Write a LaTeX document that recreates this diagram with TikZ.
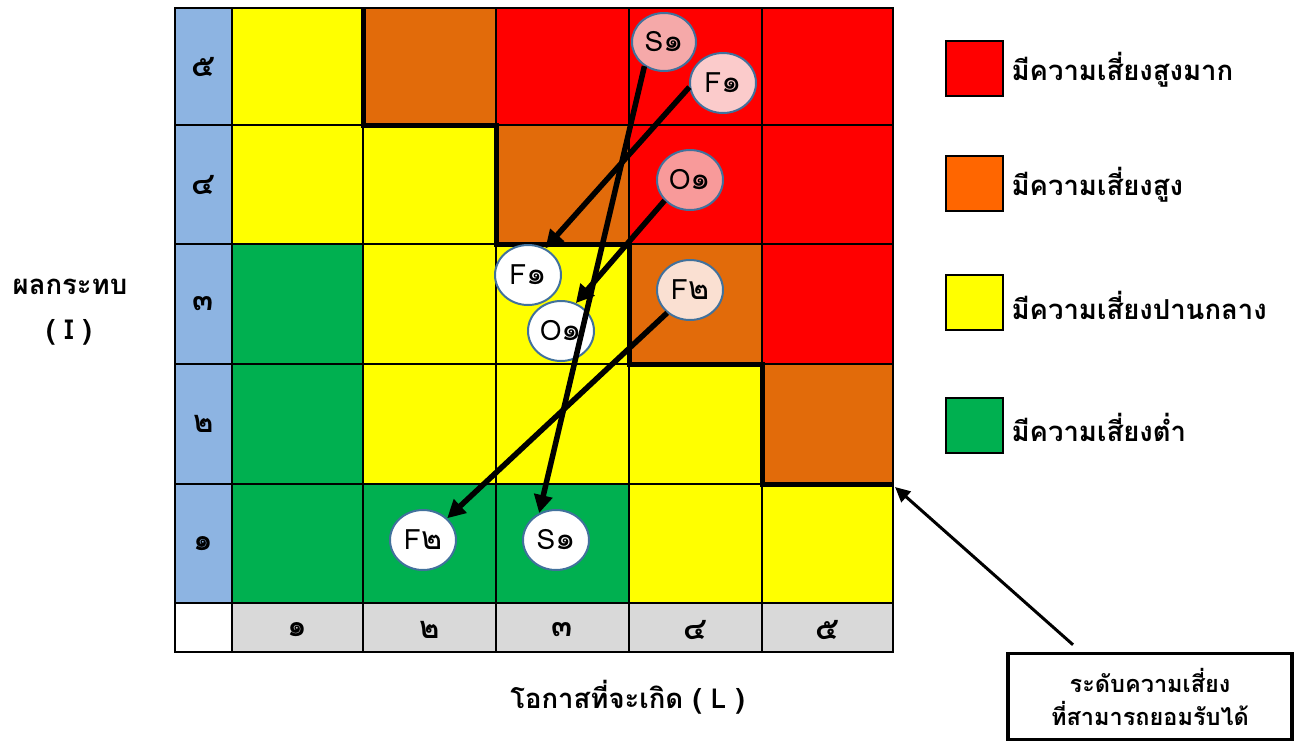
\documentclass[tikz,border=0pt]{standalone}
\usepackage{fontspec}
\setmainfont{Loma}[Script=Thai]
\usetikzlibrary{shapes.geometric,arrows.meta}
\definecolor{cr}{HTML}{FF0000}
\definecolor{co}{HTML}{E26B0A}
\definecolor{cy}{HTML}{FFFF00}
\definecolor{cg}{HTML}{00B050}
\definecolor{cb}{HTML}{8DB4E2}
\definecolor{cgr}{HTML}{D9D9D9}
\definecolor{lo}{HTML}{FF6600}
\definecolor{eb}{HTML}{41719C}
\definecolor{pk1}{HTML}{F5A9A9}
\definecolor{pk2}{HTML}{FBCBCB}
\definecolor{pk3}{HTML}{F89A9A}
\definecolor{pch}{HTML}{FAE0D2}
\newcommand{\bigd}[1]{{\fontsize{32}{32}\selectfont #1}}
\tikzset{
  risk/.style={ellipse, draw=eb, line width=2pt, inner sep=0pt, minimum width=66pt, minimum height=60pt, font=\fontsize{28}{30}\selectfont},
  marr/.style={line width=5.5pt, -{Triangle[length=18pt,width=18pt]}},
  digit/.style={font=\fontsize{31}{33}\selectfont\bfseries},
  lgtext/.style={anchor=west, font=\fontsize{27.5}{30}\selectfont\bfseries},
  lgbox/.style={draw=black, line width=2pt, minimum width=57pt, minimum height=55pt, inner sep=0pt},
  axlab/.style={font=\fontsize{27.5}{30}\selectfont\bfseries}
}
\begin{document}
\begin{tikzpicture}[x=1pt,y=-1pt]
\useasboundingbox (0,0) rectangle (1301,742);
\fill[white] (0,0) rectangle (1301,742);
\def\XS{{175,232,363,496,629,762,893}}
\def\YS{{8,125,244,364,484,603,652}}
\foreach \c/\r/\k in {
  0/0/cb,1/0/cy,2/0/co,3/0/cr,4/0/cr,5/0/cr,
  0/1/cb,1/1/cy,2/1/cy,3/1/co,4/1/cr,5/1/cr,
  0/2/cb,1/2/cg,2/2/cy,3/2/cy,4/2/co,5/2/cr,
  0/3/cb,1/3/cg,2/3/cy,3/3/cy,4/3/cy,5/3/co,
  0/4/cb,1/4/cg,2/4/cg,3/4/cg,4/4/cy,5/4/cy,
  0/5/white,1/5/cgr,2/5/cgr,3/5/cgr,4/5/cgr,5/5/cgr}{
  \pgfmathsetmacro\xa{\XS[\c]}
  \pgfmathsetmacro\xb{\XS[\c+1]}
  \pgfmathsetmacro\ya{\YS[\r]}
  \pgfmathsetmacro\yb{\YS[\r+1]}
  \filldraw[fill=\k, draw=black, line width=2pt] (\xa,\ya) rectangle (\xb,\yb);
}
\draw[line width=2.5pt] (175,8) rectangle (893,652);
% acceptable risk boundary
\draw[line width=5pt, line join=miter] (363,8) -- (363,125) -- (496,125) -- (496,244) -- (629,244) -- (629,364) -- (762,364) -- (762,484) -- (893,484);
% row labels
\node[digit] (r5) at (203.5,66.5) {๕};
\node[digit] (r4) at (203.5,184.5) {๔};
\node[digit] (r3) at (203.5,304) {๓};
\node[digit] (r2) at (203.5,424) {๒};
\node[digit] (r1) at (203.5,543.5) {๑};
% column labels
\node[digit] (c1) at (297.5,630) {๑};
\node[digit] (c2) at (429.5,630) {๒};
\node[digit] (c3) at (562.5,630) {๓};
\node[digit] (c4) at (695.5,630) {๔};
\node[digit] (c5) at (827.5,630) {๕};
% axis labels
\node[axlab] (ylab1) at (70,287) {ผลกระทบ};
\node[axlab] (ylab2) at (69,332) {( I )};
\node[axlab] (xlab) at (627.5,697) {โอกาสที่จะเกิด ( L )};
% risk ellipses
\node[risk, fill=pk1, minimum width=64pt, minimum height=58pt] (S1t) at (664,42) {S\bigd{๑}};
\node[risk, fill=pk2] (F1t) at (723,83) {F\bigd{๑}};
\node[risk, fill=pk3] (O1t) at (690,180) {O\bigd{๑}};
\node[risk, fill=pch] (F2t) at (690,290) {F\bigd{๒}};
\node[risk, fill=white] (F1b) at (528,275) {F\bigd{๑}};
\node[risk, fill=white] (O1b) at (561,331) {O\bigd{๑}};
\node[risk, fill=white] (F2b) at (423,540) {F\bigd{๒}};
\node[risk, fill=white] (S1b) at (556,540) {S\bigd{๑}};
% arrows
\draw[marr] (S1t.231) -- (S1b.122);
\draw[marr] (F1t.187) -- (F1b.57);
\draw[marr] (O1t.219) -- (O1b.62);
\draw[marr] (F2t.225) -- (F2b.42);
% legend
\node[lgbox, fill=cr] (L1) at (974.5,68.5) {};
\node[lgtext] (T1) at (1008,70) {มีความเสี่ยงสูงมาก};
\node[lgbox, fill=lo] (L2) at (974.5,183.5) {};
\node[lgtext] (T2) at (1008,185) {มีความเสี่ยงสูง};
\node[lgbox, fill=cy] (L3) at (974.5,302.5) {};
\node[lgtext] (T3) at (1008,305) {มีความเสี่ยงปานกลาง};
\node[lgbox, fill=cg] (L4) at (974.5,425.5) {};
\node[lgtext] (T4) at (1008,427) {มีความเสี่ยงต่ำ};
% acceptable level box
\node[draw=black, line width=3.5pt, minimum width=284pt, minimum height=86pt, inner sep=0pt, align=center, font=\fontsize{23.5}{33}\selectfont\bfseries] (acc) at (1150,696.5) {ระดับความเสี่ยง\\ที่สามารถยอมรับได้};
\coordinate (corner) at (895,487);
\draw[line width=3pt, -{Triangle[length=15pt,width=14pt]}] ([xshift=-77pt,yshift=7pt]acc.north) -- (corner);
\end{tikzpicture}
\end{document}
